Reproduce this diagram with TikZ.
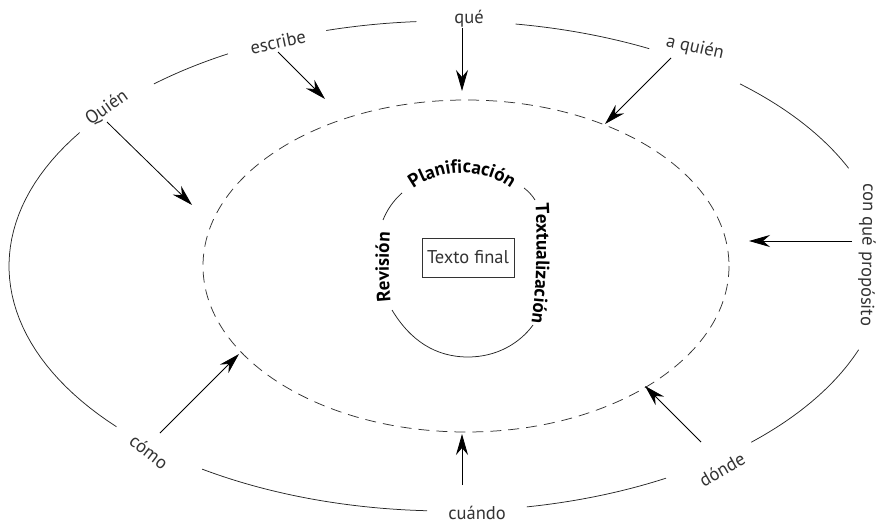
\documentclass[tikz,border=0pt]{standalone}
\usepackage{fontspec}
\setmainfont{PT Sans}
\usetikzlibrary{arrows.meta,decorations.text}

\definecolor{ink}{HTML}{333333}

\begin{document}
\begin{tikzpicture}[x=1pt,y=-1pt,
  lbl/.style={font=\fontsize{18.5}{20}\selectfont, text=ink, inner sep=1pt},
  ring/.style={line width=0.75pt, draw=black!85},
  dashring/.style={line width=0.75pt, draw=black!80, dash pattern=on 11pt off 7pt},
  ptr/.style={line width=0.8pt, draw=black, -{Stealth[length=21pt,width=12pt,inset=7pt]}},
  stage/.style={decorate, decoration={text along path, text align=center,
      text={|\fontsize{19}{20}\selectfont\bfseries|#1}}},
  result/.style={draw=black!80, line width=0.6pt, font=\fontsize{18.5}{20}\selectfont,
      text=ink, minimum width=92pt, minimum height=39pt, inner sep=0pt}
]
\useasboundingbox (0,0) rectangle (888,524);

% outer context ring, broken where the questions sit
\foreach \a/\b in {139/213, 228/240, 254/266, 279/297.5, 312/336.5, 20/46, 60/79.5, 92.6/124}
  \draw[ring] plot[domain=\a:\b, samples=40, variable=\t]
    ({447+438*cos(\t)},{266+245*sin(\t)});

% writing situation (dashed)
\draw[dashring] (466,266) ellipse [x radius=263, y radius=166];

% inner cycle of the writing process
\draw[ring] (402,193) .. controls (393,201) and (387,210) .. (383,220);
\draw[ring] (524,188) .. controls (528,191) and (532,195) .. (535,200);
\draw[ring] (392,310) .. controls (410,340) and (435,357) .. (468,357)
                      .. controls (497,357) and (520,343) .. (533,325);

\path[stage=Planificación] plot[domain=222:318, samples=40, variable=\t]
  ({462+86*cos(\t)},{259+86*sin(\t)});
\path[stage=Textualización] (535,194) .. controls (538,240) and (537,290) .. (530,332);
\path[stage=Revisión] (392,312) .. controls (388,285) and (388,250) .. (391,222);

\node[result] (final) at (468,257.5) {Texto final};

% questions around the situation
\node[lbl, rotate=35]  (quien)   at (107,108) {Quién};
\node[lbl, rotate=12]  (escribe) at (278,42)  {escribe};
\node[lbl]             (que)     at (469,19)  {qué};
\node[lbl, rotate=-13] (aquien)  at (695,48)  {a quién};
\node[lbl, rotate=-91] (proposito) at (867,255) {con qué propósito};
\node[lbl, rotate=30]  (donde)   at (722,469) {dónde};
\node[lbl]             (cuando)  at (477,513) {cuándo};
\node[lbl, rotate=-38] (como)    at (149,452) {cómo};

% arrow ends
\coordinate (quien-s) at (107,122);   \coordinate (quien-e) at (192,205);
\coordinate (escribe-s) at (278,52);  \coordinate (escribe-e) at (325,99);
\coordinate (que-s) at (462,28);      \coordinate (que-e) at (462,91);
\coordinate (aquien-s) at (671,58);   \coordinate (aquien-e) at (605,124);
\coordinate (prop-s) at (852,241);    \coordinate (prop-e) at (749,241);
\coordinate (donde-s) at (701,442);   \coordinate (donde-e) at (645,386);
\coordinate (cuando-s) at (462,485);  \coordinate (cuando-e) at (462,434);
\coordinate (como-s) at (160,433);    \coordinate (como-e) at (239,354);

\draw[ptr] (quien-s) -- (quien-e);
\draw[ptr] (escribe-s) -- (escribe-e);
\draw[ptr] (que-s) -- (que-e);
\draw[ptr] (aquien-s) -- (aquien-e);
\draw[ptr] (prop-s) -- (prop-e);
\draw[ptr] (donde-s) -- (donde-e);
\draw[ptr] (cuando-s) -- (cuando-e);
\draw[ptr] (como-s) -- (como-e);
\end{tikzpicture}
\end{document}
